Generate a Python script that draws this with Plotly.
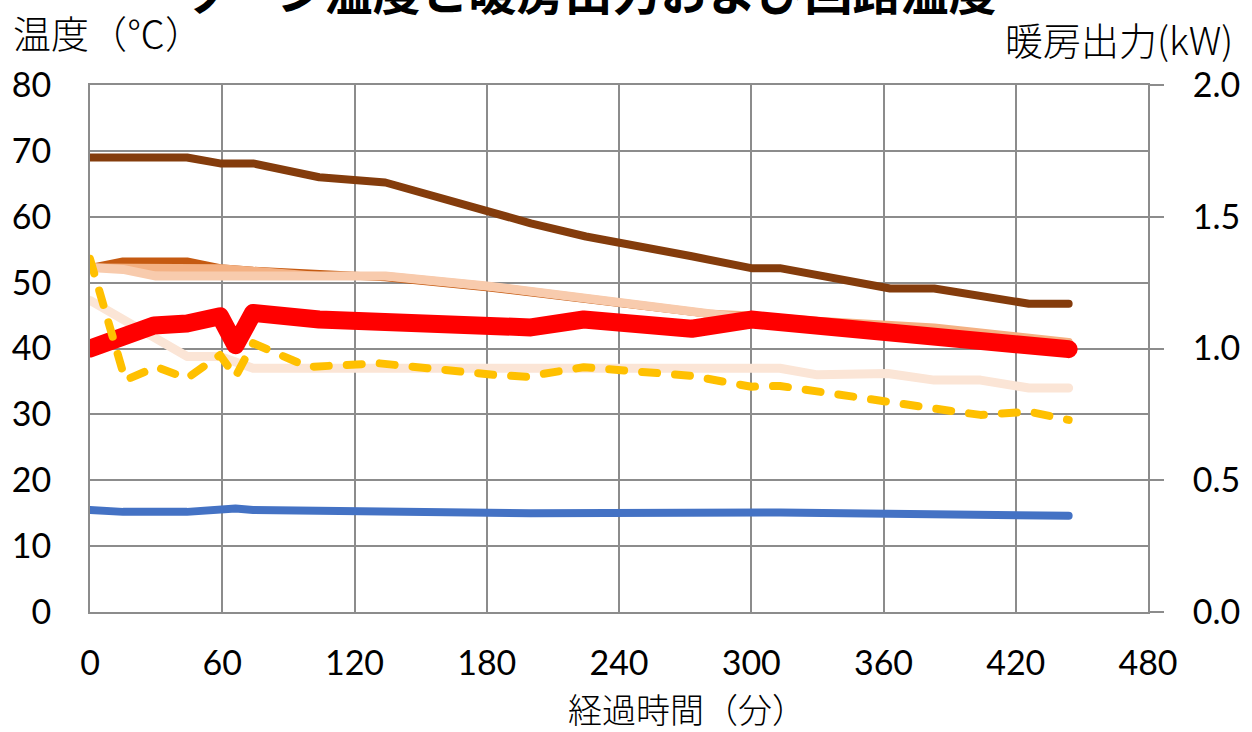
import plotly.graph_objects as go

# ---- data (minutes, °C / kW) ----
t_blue = [0, 15, 44, 59, 66, 74, 134, 200, 313, 360, 400, 444]
v_blue = [15.5, 15.2, 15.2, 15.5, 15.7, 15.5, 15.3, 15.0, 15.1, 14.9, 14.8, 14.6]

t_brown = [0, 44, 59, 74, 104, 134, 200, 225, 273, 300, 313, 342, 363, 383, 426, 444]
v_brown = [69.0, 69.0, 68.1, 68.1, 66.0, 65.2, 59.0, 57.0, 54.0, 52.2, 52.2, 50.5, 49.1, 49.1, 46.8, 46.8]

t_orange = [0, 15, 44, 59, 74, 134, 180, 240, 280, 300, 444]
v_orange = [52.2, 53.2, 53.2, 52.2, 51.8, 50.8, 49.3, 46.8, 45.1, 44.5, 40.6]

t_salmon = [0, 15, 59, 104, 134, 180, 240, 280, 300, 330, 383, 426, 444]
v_salmon = [52.3, 52.3, 52.2, 51.0, 51.0, 49.5, 47.0, 45.3, 45.0, 44.2, 43.2, 41.8, 41.0]

t_peach = [0, 15, 30, 134, 180, 240, 280, 300, 444]
v_peach = [52.3, 52.0, 51.0, 51.0, 49.5, 47.0, 45.3, 44.5, 40.0]

t_pale = [0, 44, 59, 74, 313, 330, 362, 383, 404, 426, 444]
v_pale = [47.3, 38.8, 38.8, 37.0, 37.0, 36.0, 36.2, 35.2, 35.2, 34.0, 34.0]

t_red = [0, 14, 29, 44, 59, 66, 74, 104, 185, 200, 224, 273, 300, 444]
v_red = [40.0, 42.0, 43.5, 43.8, 44.9, 40.5, 45.4, 44.4, 43.3, 43.2, 44.4, 43.0, 44.4, 39.9]

t_power = [0, 16, 30, 44, 59, 66, 74, 99, 131, 160, 183, 198, 224, 273, 300, 313, 363, 393, 404, 426, 444]
v_power = [1.34, 0.88, 0.93, 0.887, 0.975, 0.893, 1.02, 0.93, 0.944, 0.918, 0.90, 0.893, 0.929, 0.896,
           0.855, 0.858, 0.792, 0.760, 0.748, 0.760, 0.729]

x_ticks = [0, 60, 120, 180, 240, 300, 360, 420, 480]
y_ticks = [0, 10, 20, 30, 40, 50, 60, 70, 80]
y2_ticks = [0.0, 0.5, 1.0, 1.5, 2.0]

GRID = "#8c8c8c"
NUM_FONT = dict(family="Lato, 'Open Sans', sans-serif", size=34, color="#000000")
JP_FONT = dict(family="'Noto Sans CJK JP', sans-serif", size=38, color="#000000", weight=300)
JP_FONT_X = dict(family="'Noto Sans CJK JP', sans-serif", size=34, color="#000000", weight=300)

fig = go.Figure()

def add(t, v, color, width, dash=None, axis="y"):
    fig.add_trace(go.Scatter(
        x=t, y=v, mode="lines", yaxis=axis, showlegend=False, hoverinfo="skip",
        line=dict(color=color, width=width, dash=dash),
    ))

add(t_blue, v_blue, "#4472C4", 8)
add(t_brown, v_brown, "#843C0C", 8)
add(t_orange, v_orange, "#C55A11", 8)
add(t_salmon, v_salmon, "#F4B183", 8)
add(t_peach, v_peach, "#F8CBAD", 9)
add(t_pale, v_pale, "#FBE5D6", 9)
add(t_red, v_red, "#FF0000", 18)
add(t_power, v_power, "#FFC000", 8, dash="15px,18px", axis="y2")

fig.update_layout(
    width=1252, height=732,
    margin=dict(l=90, r=96, t=85, b=120),
    paper_bgcolor="white", plot_bgcolor="white",
    xaxis=dict(
        range=[0, 480], tickvals=x_ticks, ticktext=[str(v) for v in x_ticks],
        showgrid=True, gridcolor=GRID, gridwidth=2,
        showline=True, linecolor=GRID, linewidth=2, mirror=True,
        zeroline=False, ticks="", tickfont=NUM_FONT, ticklabelstandoff=20,
    ),
    yaxis=dict(
        range=[0, 80], tickvals=y_ticks, ticktext=[str(v) for v in y_ticks],
        showgrid=True, gridcolor=GRID, gridwidth=2,
        showline=True, linecolor=GRID, linewidth=2,
        zeroline=False, ticks="", tickfont=NUM_FONT, ticklabelstandoff=30,
    ),
    yaxis2=dict(
        range=[0, 2], overlaying="y", side="right",
        tickvals=y2_ticks, ticktext=[f"{v:.1f}" for v in y2_ticks],
        showgrid=False, showline=True, linecolor=GRID, linewidth=2,
        zeroline=False, ticks="outside", ticklen=14, tickwidth=2, tickcolor=GRID,
        tickfont=NUM_FONT, ticklabelstandoff=22,
    ),
    annotations=[
        dict(text="ゾーン温度と暖房出力および回路温度", xref="paper", yref="paper",
             x=(594 - 90) / 1066, y=1.182, xanchor="center", yanchor="middle", showarrow=False,
             font=dict(family="'Noto Sans CJK JP', sans-serif", size=48, color="#000000", weight="bold")),
        dict(text="温度（℃）", xref="paper", yref="paper", x=(10 - 90) / 1066, y=(612 - 32) / 527,
             xanchor="left", yanchor="middle", showarrow=False, font=JP_FONT),
        dict(text="暖房出力(kW)", xref="paper", yref="paper", x=(1244 - 90) / 1066, y=(612 - 38) / 527,
             xanchor="right", yanchor="middle", showarrow=False, font=JP_FONT),
        dict(text="経過時間（分）", xref="paper", yref="paper", x=(692 - 90) / 1066, y=(612 - 708) / 527,
             xanchor="center", yanchor="middle", showarrow=False, font=JP_FONT_X),
    ],
)

post = """
var gd = document.getElementById('{plot_id}');
function roundCaps() {
  gd.querySelectorAll('.scatterlayer .js-line').forEach(function (p) {
    p.style.strokeLinecap = 'round';
    p.style.strokeLinejoin = 'round';
  });
}
roundCaps();
setTimeout(roundCaps, 50);
setTimeout(roundCaps, 300);
"""

fig.write_html("out.html", post_script=post)
